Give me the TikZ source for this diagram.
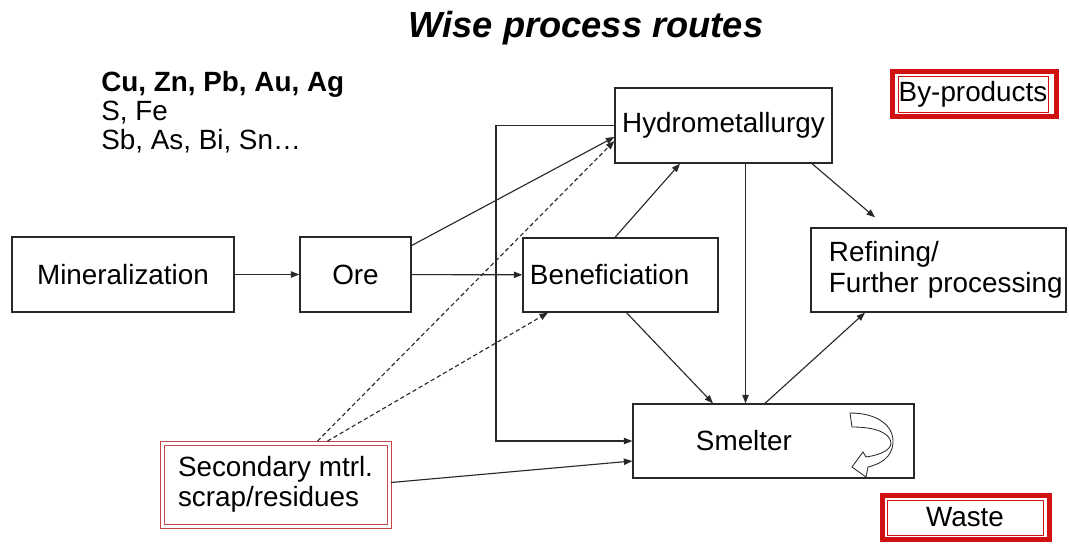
\documentclass[tikz,border=0pt]{standalone}
\usepackage{fontspec}
\setmainfont{Liberation Sans}
\usepackage{xcolor}
\usetikzlibrary{arrows.meta}
\definecolor{linegray}{RGB}{40,40,40}
\definecolor{framered}{RGB}{208,18,18}
\definecolor{softred}{RGB}{196,72,72}

\begin{document}
\begin{tikzpicture}[x=0.025cm,y=-0.025cm,
		box/.style={draw=linegray, line width=0.9pt, inner sep=0pt, font=\fontsize{19.8}{0.76cm}\selectfont},
		arr/.style={draw=linegray, line width=0.8pt, -{Triangle[length=6pt,width=4.5pt]}},
		dsh/.style={arr, dash pattern=on 3pt off 2pt},
		redbox/.style={box, draw=framered, line width=0.6pt},
		redframe/.style={draw=framered, line width=3.5pt}]
	\useasboundingbox (0,0) rectangle (1069,546);
	\node[anchor=base, font=\fontsize{25.8}{30}\selectfont\bfseries\itshape] (title) at (586,37) {Wise process routes};
	\node[anchor=west, align=left, inner sep=0pt, font=\fontsize{19.8}{0.72cm}\selectfont] (metals) at (101,112)
		{\textbf{Cu, Zn, Pb, Au, Ag}\\S, Fe\\Sb, As, Bi, Sn…};
	\node[box, minimum width=5.55cm, minimum height=1.875cm] (min) at (123,274.5) {Mineralization};
	\node[box, minimum width=2.775cm, minimum height=1.875cm] (ore) at (355.5,274.5) {Ore};
	\node[box, minimum width=4.875cm, minimum height=1.85cm, inner xsep=0.175cm, text width=4.525cm, align=left] (ben) at (620.5,275) {Beneficiation};
	\node[box, minimum width=5.425cm, minimum height=1.875cm] (hydro) at (723.5,125.5) {Hydrometallurgy};
	\node[box, minimum width=6.375cm, minimum height=2.1cm, inner xsep=0.45cm, text width=5.475cm, align=left] (refine) at (938.5,270)
		{Refining/\\\mbox{Further processing}};
	\node[box, minimum width=7.025cm, minimum height=1.85cm, inner xsep=1.575cm, text width=3.875cm, align=left] (smelt) at (773.5,441) {Smelter};
	\node[box, draw=softred, line width=0.6pt, minimum width=5.575cm, minimum height=1.975cm, align=left] (sec) at (275.5,484.5)
		{Secondary mtrl.\\scrap/residues};
	\node[redbox, minimum width=3.75cm, minimum height=0.9cm] (byp) at (973,94) {By-products};
	\node[redbox, minimum width=3.9cm, minimum height=0.875cm] (waste) at (965,517.5) {Waste};
	\draw[softred, line width=0.6pt] ([shift={(-3.5,-3.5)}]sec.north west) rectangle ([shift={(3.5,3.5)}]sec.south east);
	\draw[redframe] ([shift={(-5.5,-4)}]byp.north west) rectangle ([shift={(8,4.5)}]byp.south east);
	\draw[redframe] ([shift={(-4.5,-4.5)}]waste.north west) rectangle ([shift={(6,4)}]waste.south east);
	\draw[linegray, line width=0.6pt] (850,413) .. controls (878,413) and (894,426) .. (893,443)
		.. controls (892,457) and (881,464) .. (868,467) -- (866,477) -- (852,467) -- (863,452) -- (866,457)
		.. controls (880,455) and (891,450) .. (891,443) .. controls (890,433) and (876,427) .. (852,427) -- cycle;
	\coordinate (bypass) at (496,441);
	\draw[arr] (min) -- (ore);
	\draw[arr] (ore) -- (ben);
	\draw[arr] ([shift={(0,-29)}]ore.east) -- ([shift={(0,11.5)}]hydro.west);
	\draw[arr] (hydro.west) -| (bypass) -- (smelt.west);
	\draw[arr] ([shift={(3.5,-2)}]sec.east) -- ([shift={(0,20)}]smelt.west);
	\draw[dsh] ([shift={(42,-3.5)}]sec.north) -- ([shift={(0,15.5)}]hydro.west);
	\draw[dsh] ([shift={(52,-3.5)}]sec.north) -- ([shift={(-72.5,0)}]ben.south);
	\draw[arr] ([shift={(-5.5,0)}]ben.north) -- ([shift={(-43.5,0)}]hydro.south);
	\draw[arr] ([shift={(22,0)}]hydro.south) -- ([shift={(-28,0)}]smelt.north);
	\draw[arr] ([shift={(6,0)}]ben.south) -- ([shift={(-60.5,0)}]smelt.north);
	\draw[arr] ([shift={(88.5,0)}]hydro.south) -- ([shift={(-63.5,-10)}]refine.north);
	\draw[arr] ([shift={(-8.5,0)}]smelt.north) -- ([shift={(-73.5,0)}]refine.south);
\end{tikzpicture}
\end{document}
